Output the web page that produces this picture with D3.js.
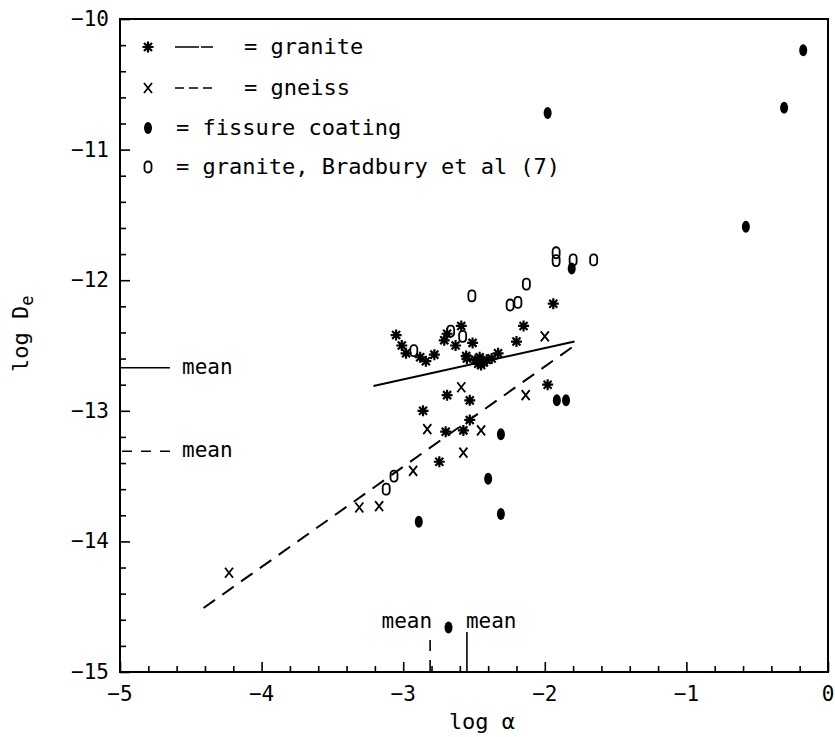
<!DOCTYPE html>
<html>
<head>
<meta charset="utf-8">
<script src="https://cdn.jsdelivr.net/npm/d3@7"></script>
<style>
  html, body { margin: 0; padding: 0; background: #fff; }
  svg { display: block; }
  text { font-family: "DejaVu Sans Mono", "Liberation Mono", monospace; fill: #000; }
</style>
</head>
<body>
<svg id="chart" width="835" height="737"></svg>
<script>
// ---------------- data ----------------
const xTicks = [-5, -4, -3, -2, -1, 0];
const yTicks = [-10, -11, -12, -13, -14, -15];

// granite (*)
const granitePoints = [
  [-3.05,-12.42],[-3.01,-12.50],[-2.98,-12.56],[-2.88,-12.59],[-2.84,-12.62],
  [-2.78,-12.57],[-2.71,-12.46],[-2.69,-12.41],[-2.63,-12.50],[-2.59,-12.35],
  [-2.51,-12.48],[-2.555,-12.58],[-2.55,-12.60],[-2.49,-12.61],[-2.46,-12.59],
  [-2.45,-12.65],[-2.41,-12.61],[-2.375,-12.60],[-2.33,-12.56],[-2.43,-12.63],
  [-2.47,-12.64],[-2.20,-12.47],[-2.15,-12.35],[-1.94,-12.18],[-2.69,-12.88],
  [-2.53,-12.92],[-1.98,-12.80],[-2.86,-13.00],[-2.70,-13.16],[-2.575,-13.15],
  [-2.53,-13.07],[-2.745,-13.39]
];
// gneiss (x)
const gneissPoints = [
  [-2.00,-12.43],[-2.59,-12.82],[-2.135,-12.88],[-2.83,-13.14],[-2.45,-13.15],
  [-2.575,-13.32],[-2.93,-13.46],[-3.17,-13.73],[-3.31,-13.74],[-4.23,-14.24]
];
// fissure coating (filled)
const fissurePoints = [
  [-0.175,-10.24],[-0.31,-10.68],[-0.58,-11.59],[-1.98,-10.72],[-1.81,-11.91],
  [-1.915,-12.92],[-1.85,-12.92],[-2.31,-13.18],[-2.40,-13.52],[-2.31,-13.79],
  [-2.89,-13.85],[-2.68,-14.66]
];
// granite, Bradbury et al (0)
const bradburyPoints = [
  [-1.92,-11.79],[-1.92,-11.85],[-1.80,-11.845],[-1.655,-11.845],[-2.13,-12.03],
  [-2.245,-12.19],[-2.19,-12.17],[-2.515,-12.12],[-2.58,-12.43],[-2.665,-12.39],
  [-2.925,-12.54],[-3.065,-13.50],[-3.12,-13.60]
];
// regression lines
const graniteLine = [[-3.21,-12.81],[-1.79,-12.47]];
const gneissLine  = [[-4.41,-14.51],[-1.79,-12.50]];
// means
const graniteMean = { x: -2.55, y: -12.67 };
const gneissMean  = { x: -2.81, y: -13.31 };

const legendLabels = ["= granite", "= gneiss", "= fissure coating", "= granite, Bradbury et al (7)"];

// ---------------- drawing ----------------
const svg = d3.select("#chart");
const X0 = 120, X1 = 828, Y0 = 19, Y1 = 672;
const x = d3.scaleLinear().domain([-5, 0]).range([X0, X1]);
const y = d3.scaleLinear().domain([-15, -10]).range([Y1, Y0]);
const FS = 21;

// frame
svg.append("rect").attr("x", X0).attr("y", Y0).attr("width", X1 - X0).attr("height", Y1 - Y0)
  .attr("fill", "none").attr("stroke", "#000").attr("stroke-width", 2);

// x axis (ticks inward)
const xMinor = d3.range(-5, 0.001, 0.2).map(v => +v.toFixed(1));
const xAxis = d3.axisBottom(x).tickValues(xMinor).tickSize(-6).tickFormat("");
const gx = svg.append("g").attr("transform", `translate(0,${Y1})`).call(xAxis);
gx.select(".domain").remove();
gx.selectAll(".tick line").attr("stroke", "#000").attr("stroke-width", 1.6)
  .attr("y2", d => Math.abs(d - Math.round(d)) < 1e-6 ? -10 : -6);
svg.append("g").selectAll("text").data(xTicks).join("text")
  .attr("x", d => x(d)).attr("y", Y1 + 29)
  .attr("text-anchor", "middle").attr("font-size", FS)
  .text(d => d === 0 ? "0" : "\u2212" + Math.abs(d));

// y axis (ticks inward)
const yMinor = d3.range(-15, -9.999, 0.2).map(v => +v.toFixed(1));
const yAxis = d3.axisLeft(y).tickValues(yMinor).tickSize(-6).tickFormat("");
const gy = svg.append("g").attr("transform", `translate(${X0},0)`).call(yAxis);
gy.select(".domain").remove();
gy.selectAll(".tick line").attr("stroke", "#000").attr("stroke-width", 1.6)
  .attr("x2", d => Math.abs(d - Math.round(d)) < 1e-6 ? 10 : 6);
svg.append("g").selectAll("text").data(yTicks).join("text")
  .attr("x", X0 - 11).attr("y", d => y(d) + 7)
  .attr("text-anchor", "end").attr("font-size", FS)
  .text(d => "\u2212" + Math.abs(d));

// axis titles
svg.append("text").attr("x", 482).attr("y", 729).attr("text-anchor", "middle")
  .attr("font-size", FS + 1).text("log \u03B1");
const yt = svg.append("text").attr("transform", "translate(28,372) rotate(-90)")
  .attr("text-anchor", "start").attr("font-size", FS + 1);
yt.append("tspan").text("log D");
yt.append("tspan").attr("font-size", FS - 4).attr("dy", 5).text("e");

// regression lines
const line = d3.line().x(d => x(d[0])).y(d => y(d[1]));
svg.append("path").datum(graniteLine).attr("d", line)
  .attr("fill", "none").attr("stroke", "#000").attr("stroke-width", 2);
svg.append("path").datum(gneissLine).attr("d", line)
  .attr("fill", "none").attr("stroke", "#000").attr("stroke-width", 2)
  .attr("stroke-dasharray", "14,9");

// mean markers on y axis
svg.append("line").attr("x1", X0).attr("x2", X0 + 50)
  .attr("y1", y(graniteMean.y)).attr("y2", y(graniteMean.y))
  .attr("stroke", "#000").attr("stroke-width", 1.6);
svg.append("line").attr("x1", X0 + 2).attr("x2", X0 + 50)
  .attr("y1", y(gneissMean.y)).attr("y2", y(gneissMean.y))
  .attr("stroke", "#000").attr("stroke-width", 1.6).attr("stroke-dasharray", "10,9");
svg.append("text").attr("x", X0 + 62).attr("y", y(graniteMean.y) + 6).attr("font-size", FS).text("mean");
svg.append("text").attr("x", X0 + 62).attr("y", y(gneissMean.y) + 6).attr("font-size", FS).text("mean");

// mean markers on x axis
svg.append("line").attr("x1", x(gneissMean.x)).attr("x2", x(gneissMean.x))
  .attr("y1", Y1 - 32).attr("y2", Y1)
  .attr("stroke", "#000").attr("stroke-width", 1.6).attr("stroke-dasharray", "11,9");
svg.append("line").attr("x1", x(graniteMean.x)).attr("x2", x(graniteMean.x))
  .attr("y1", Y1 - 40).attr("y2", Y1)
  .attr("stroke", "#000").attr("stroke-width", 1.6);
svg.append("text").attr("x", x(gneissMean.x) + 2).attr("y", Y1 - 44)
  .attr("text-anchor", "end").attr("font-size", FS).text("mean");
svg.append("text").attr("x", x(graniteMean.x) - 1).attr("y", Y1 - 44)
  .attr("text-anchor", "start").attr("font-size", FS).text("mean");

// symbol drawers
function star(g) {
  g.append("path").attr("d", "M0,-5.5V5.5M-5.5,0H5.5M-4,-4L4,4M-4,4L4,-4")
    .attr("stroke", "#000").attr("stroke-width", 2.2).attr("fill", "none");
}
function cross(g) {
  g.append("path").attr("d", "M-4,-5L4,5M-4,5L4,-5")
    .attr("stroke", "#000").attr("stroke-width", 1.8).attr("fill", "none");
}
function ring(g) {
  g.append("rect").attr("x", -3.5).attr("y", -5.5).attr("width", 7).attr("height", 11)
    .attr("rx", 3.2).attr("ry", 3.5)
    .attr("stroke", "#000").attr("stroke-width", 1.8).attr("fill", "none");
}
function blob(g) {
  g.append("ellipse").attr("rx", 4).attr("ry", 6).attr("fill", "#000");
}
function drawPoints(data, fn) {
  svg.append("g").selectAll("g").data(data).join("g")
    .attr("transform", d => `translate(${x(d[0])},${y(d[1])})`)
    .each(function() { fn(d3.select(this)); });
}
drawPoints(bradburyPoints, ring);
drawPoints(gneissPoints, cross);
drawPoints(granitePoints, star);
drawPoints(fissurePoints, blob);

// legend
const legRows = [47, 88, 128, 167];
const symFns = [star, cross, blob, ring];
legRows.forEach((ry, i) => {
  const g = svg.append("g").attr("transform", `translate(148,${ry})`);
  symFns[i](g);
});
svg.append("path").attr("d", `M175,${legRows[0]}H213`).attr("stroke", "#000")
  .attr("stroke-width", 1.6).attr("stroke-dasharray", "24,2,12");
svg.append("path").attr("d", `M175,${legRows[1]}H212`).attr("stroke", "#000")
  .attr("stroke-width", 1.6).attr("stroke-dasharray", "9,5");
const legTextX = [244, 244, 176, 176];
legRows.forEach((ry, i) => {
  svg.append("text").attr("x", legTextX[i]).attr("y", ry + 7)
    .attr("font-size", FS + 1)
    .text(legendLabels[i]);
});
</script>
</body>
</html>
